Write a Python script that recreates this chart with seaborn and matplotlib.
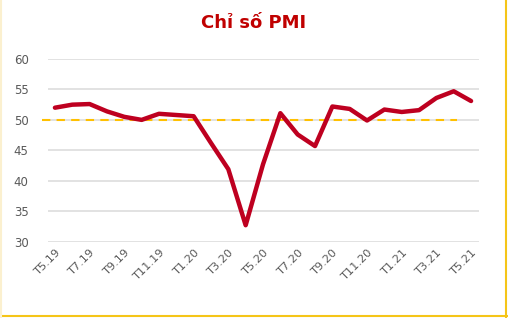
import matplotlib
matplotlib.use("Agg")
import matplotlib.pyplot as plt
from matplotlib.lines import Line2D
import seaborn as sns
import pandas as pd

months = ["T5.19", "T6.19", "T7.19", "T8.19", "T9.19", "T10.19", "T11.19", "T12.19",
          "T1.20", "T2.20", "T3.20", "T4.20", "T5.20", "T6.20", "T7.20", "T8.20",
          "T9.20", "T10.20", "T11.20", "T12.20", "T1.21", "T2.21", "T3.21", "T4.21", "T5.21"]
pmi = [52.0, 52.5, 52.6, 51.4, 50.5, 50.0, 51.0, 50.8,
       50.6, 46.2, 41.9, 32.7, 42.7, 51.1, 47.6, 45.7,
       52.2, 51.8, 49.9, 51.7, 51.3, 51.6, 53.6, 54.7, 53.1]
threshold = 50
yticks = [30, 35, 40, 45, 50, 55, 60]
title = "Chỉ số PMI"

df = pd.DataFrame({"idx": range(len(months)), "month": months, "pmi": pmi})

sns.set_theme(style="white")
plt.rcParams["font.family"] = ["DejaVu Sans"]

fig = plt.figure(figsize=(5.08, 3.18), dpi=100)
ax = fig.add_axes([0.0945, 0.240, 0.8485, 0.5745])

for y in yticks:
    ax.axhline(y, color="#DADADA", lw=1.1, zorder=0)

ax.plot([-0.75, 23.2], [threshold, threshold], color="#FFC000", lw=1.5,
        dashes=(4, 3), clip_on=False, zorder=1)

sns.lineplot(data=df, x="idx", y="pmi", ax=ax, color="#BE0020", lw=3.2,
             zorder=3, solid_joinstyle="round", solid_capstyle="round")

ax.set_xlim(-0.4, 24.46)
ax.set_ylim(30, 60)
ax.set_yticks(yticks)
ax.set_yticklabels([str(v) for v in yticks], fontsize=8.5, color="#595959")
ax.set_xticks(list(range(0, len(months), 2)))
ax.set_xticklabels(months[::2], rotation=45, ha="right", rotation_mode="anchor",
                   fontsize=8.2, color="#595959")
ax.tick_params(axis="y", length=0, pad=14)
ax.tick_params(axis="x", length=0, pad=4)
ax.set_xlabel("")
ax.set_ylabel("")
for s in ax.spines.values():
    s.set_visible(False)

fig.text(0.5, 0.928, title, ha="center", va="center", fontsize=13,
         fontweight="bold", color="#C00000")

fig.add_artist(Line2D([0.997, 0.997], [0, 1], color="#F5C518", lw=1.5, transform=fig.transFigure))
fig.add_artist(Line2D([0, 1], [0.005, 0.005], color="#F5C518", lw=1.5, transform=fig.transFigure))
fig.add_artist(Line2D([0.002, 0.002], [0, 1], color="#FBF0CF", lw=1.5, transform=fig.transFigure))

fig.savefig("out.png", dpi=100)
